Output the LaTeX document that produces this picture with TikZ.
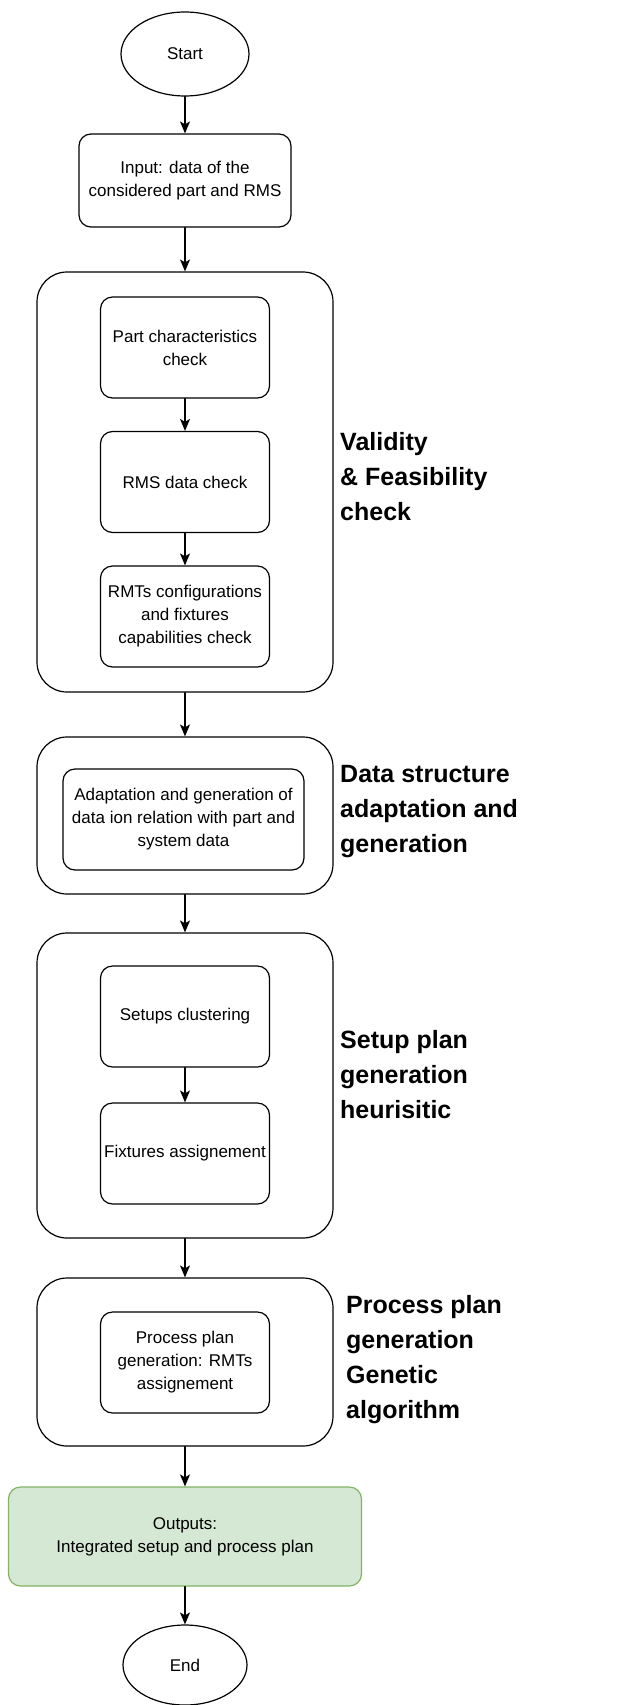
\documentclass[tikz,border=0pt]{standalone}
\usepackage{fontspec}
\setmainfont{Liberation Sans}
\usetikzlibrary{shapes.geometric,arrows.meta,positioning}
\definecolor{greenfill}{HTML}{D5E8D4}
\definecolor{greenline}{HTML}{82B366}

\begin{document}
\begin{tikzpicture}[x=1pt, y=-1pt, line cap=round, line join=round,
    >={Stealth[length=12pt, width=10pt, inset=3pt]},
    font=\fontsize{17}{23}\selectfont,
    terminal/.style={draw, line width=1.2pt, ellipse, minimum width=128pt, minimum height=84pt, inner sep=0pt},
    stepbox/.style={draw, line width=1.2pt, rounded corners=12pt, align=center, minimum width=169pt, minimum height=101pt, inner sep=0pt},
    phase/.style={draw, line width=1.2pt, rounded corners=30pt, minimum width=296pt, inner sep=0pt},
    phaselabel/.style={anchor=west, align=left, inner sep=0pt, font=\fontsize{25}{35}\selectfont\bfseries},
    flow/.style={->, line width=1.2pt}]
    \fill[white] (0,0) rectangle (624,1705);
    \useasboundingbox (0,0) rectangle (624,1705);
    % start and input
    \node[terminal] (start) at (185,54) {Start};
    \node[stepbox, minimum width=212pt, minimum height=93pt] (input) at (185,180.5) {Input: data of the\\considered part and RMS};
    % phases
    \node[phase, minimum height=420pt] (valid) at (185,482) {};
    \node[phase, minimum height=157pt] (data) at (185,815.5) {};
    \node[phase, minimum height=305pt] (setup) at (185,1085.5) {};
    \node[phase, minimum height=168pt] (proc) at (185,1362) {};
    % steps inside the phases
    \node[stepbox] (part) at (185,347.5) {Part characteristics\\check};
    \node[stepbox] (rms) at (185,482) {RMS data check};
    \node[stepbox] (rmt) at (185,616.5) {RMTs configurations\\and fixtures\\capabilities check};
    \node[stepbox, minimum width=241pt] (adapt) at (183.5,819.5) {Adaptation and generation of\\data ion relation with part and\\system data};
    \node[stepbox] (clust) at (185,1016.5) {Setups clustering};
    \node[stepbox] (fixt) at (185,1153.5) {Fixtures assignement};
    \node[stepbox] (ga) at (185,1362.5) {Process plan\\generation: RMTs\\assignement};
    % outputs and end
    \node[stepbox, fill=greenfill, draw=greenline, minimum width=353pt, minimum height=99pt] (out) at (185,1536.5) {Outputs:\\Integrated setup and process plan};
    \node[terminal, minimum width=124pt, minimum height=80pt] (end) at (185,1665) {End};
    % phase labels
    \node[phaselabel] (validlbl) at (340,477) {Validity\\\& Feasibility\\check};
    \node[phaselabel] (datalbl) at (340,812) {Data structure\\adaptation and\\generation};
    \node[phaselabel] (setuplbl) at (340,1075) {Setup plan\\generation\\heurisitic};
    \node[phaselabel] (proclbl) at (346,1359.5) {Process plan\\generation\\Genetic\\algorithm};
    % arrows
    \foreach \a/\b in {start/input, input/valid, part/rms, rms/rmt, valid/data, data/setup, clust/fixt, setup/proc, proc/out, out/end}
        \draw[flow] (\a) -- (\b);
\end{tikzpicture}
\end{document}
